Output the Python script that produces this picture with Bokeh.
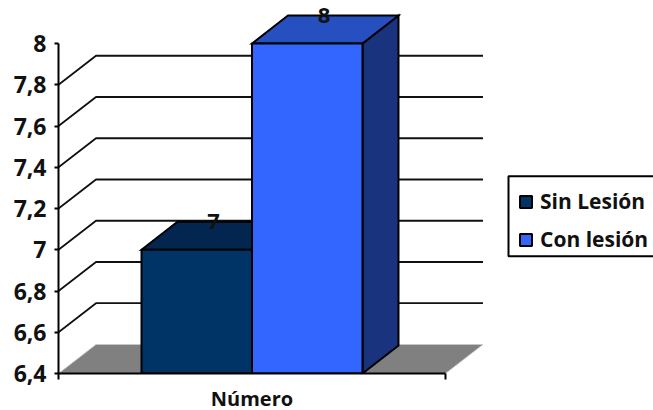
from bokeh.core.properties import value
from bokeh.embed import file_html
from bokeh.models import FixedTicker, Legend, LegendItem, Range1d
from bokeh.plotting import figure
from bokeh.resources import INLINE

series_names = ["Sin Lesión", "Con lesión"]
series_values = [7, 8]
category = "Número"
tick_values = [6.4, 6.6, 6.8, 7.0, 7.2, 7.4, 7.6, 7.8, 8.0]
tick_labels = ["6,4", "6,6", "6,8", "7", "7,2", "7,4", "7,6", "7,8", "8"]

FRONT = ["#003366", "#3366FF"]
TOP = ["#02264F", "#2650C0"]
SIDE = ["#02264F", "#1A337F"]
FONT = "Open Sans"

# Oblique depth of the walls and of the bars, in data units
WALL_DX, WALL_DY = 37.5 / 387, 29 / 206
BAR_DX, BAR_DY = 36 / 387, 28 / 206
BAR_W = 0.2855
Y0, Y1 = tick_values[0], tick_values[-1]
X_END = 595 / 387

p = figure(
    width=653, height=410, frame_width=595, frame_height=373,
    min_border_left=58, min_border_right=0, min_border_top=0, min_border_bottom=37,
    x_range=Range1d(0, X_END), y_range=Range1d(Y0, Y1 + 43 / 206),
    output_backend="svg", toolbar_location=None,
    x_axis_location="below", background_fill_color="white",
)
p.outline_line_color = None
p.grid.visible = False

# Floor
p.patch([0, WALL_DX, 1 + WALL_DX, 1], [Y0, Y0 + WALL_DY, Y0 + WALL_DY, Y0],
        fill_color="#808080", line_color="#C8C8C8", line_width=1)

# Wall gridlines: a diagonal on the side wall, then across the back wall
grid_values = [v for v in tick_values[1:-1]]
p.multi_line(
    [[0, WALL_DX, 1 + WALL_DX] for _ in grid_values],
    [[v, v + WALL_DY, v + WALL_DY] for v in grid_values],
    line_color="#111111", line_width=1.8,
)

# Bars: top and side faces, then the front face that carries the legend entry
front_renderers = []
centers = [0.5 - BAR_W / 2, 0.5 + BAR_W / 2]
for i, val in enumerate(series_values):
    left, right = centers[i] - BAR_W / 2, centers[i] + BAR_W / 2
    p.patch([right, right + BAR_DX, right + BAR_DX, right],
            [Y0, Y0 + BAR_DY, val + BAR_DY, val],
            fill_color=SIDE[i], line_color="black", line_width=2, line_join="miter")
    p.patch([left, left + BAR_DX, right + BAR_DX, right],
            [val, val + BAR_DY, val + BAR_DY, val],
            fill_color=TOP[i], line_color="black", line_width=2, line_join="miter")
    front_renderers.append(
        p.quad(left=left, right=right, bottom=Y0, top=val,
               fill_color=FRONT[i], line_color="black", line_width=2)
    )

# Value labels sit on the rear edge of each bar's top face
p.text(
    x=[c + BAR_DX / 2 - 0.003 for c in centers],
    y=[v + BAR_DY for v in series_values],
    text=[str(v) for v in series_values],
    text_font=value(FONT), text_font_style="bold", text_font_size="22px",
    text_color="#111111", text_align="center", text_baseline="middle",
)

# Value axis
yax = p.yaxis[0]
yax.ticker = FixedTicker(ticks=tick_values)
yax.major_label_overrides = dict(zip(tick_values, tick_labels))
yax.bounds = (Y0, Y1)
yax.axis_line_color = "black"
yax.axis_line_width = 2
yax.major_tick_line_color = "black"
yax.major_tick_line_width = 2
yax.major_tick_in = 0
yax.major_tick_out = 4
yax.minor_tick_line_color = None
yax.major_label_standoff = 8
yax.major_label_text_font = FONT
yax.major_label_text_font_style = "bold"
yax.major_label_text_font_size = "23px"
yax.major_label_text_color = "#111111"

# Category axis: the label at mid-span, end ticks drawn as minor ticks
xax = p.xaxis[0]
xax.ticker = FixedTicker(ticks=[0.5], minor_ticks=[0, 1])
xax.major_label_overrides = {0.5: category}
xax.bounds = (0, 1)
xax.axis_line_color = "black"
xax.axis_line_width = 2
xax.major_tick_line_color = None
xax.major_tick_in = 0
xax.major_tick_out = 0
xax.minor_tick_line_color = "black"
xax.minor_tick_line_width = 2
xax.minor_tick_in = 0
xax.minor_tick_out = 6
xax.major_label_standoff = 5
xax.major_label_text_font = FONT
xax.major_label_text_font_style = "bold"
xax.major_label_text_font_size = "20px"
xax.major_label_text_color = "#111111"

# Legend panel running off the right edge of the page
p.quad(left=(508 - 58) / 387, right=X_END + 0.05,
       bottom=Y0 + 117 / 206, top=Y0 + 197 / 206,
       fill_color="white", line_color="black", line_width=2)

legend = Legend(
    items=[LegendItem(label=n, renderers=[r]) for n, r in zip(series_names, front_renderers)],
    location=(450, 110),
    orientation="vertical",
    border_line_color="white", border_line_alpha=0, background_fill_alpha=0,
    label_text_font=FONT, label_text_font_style="bold", label_text_font_size="21px",
    label_text_color="#111111",
    glyph_width=15, glyph_height=15, label_standoff=7,
    padding=10, margin=0, spacing=10,
)
p.add_layout(legend, "center")

open("out.html", "w").write(file_html(p, INLINE))
